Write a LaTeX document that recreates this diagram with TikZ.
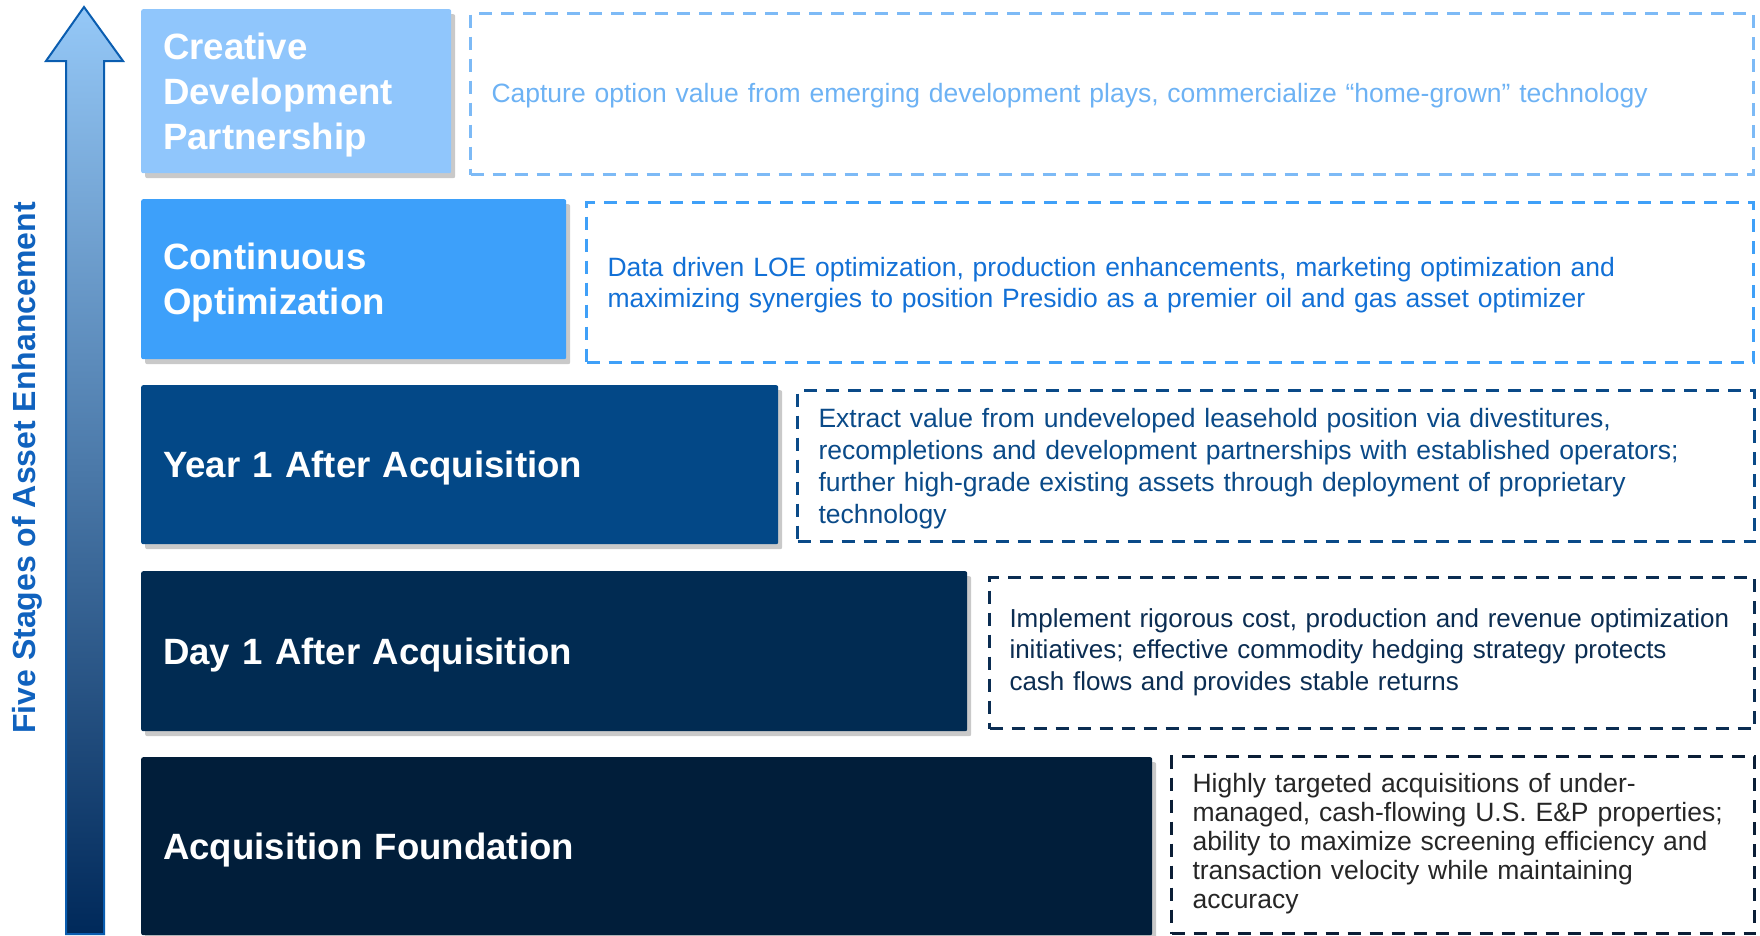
\documentclass[tikz,border=0pt]{standalone}
\usepackage{fontspec}
\setmainfont{Liberation Sans}
\usetikzlibrary{shadows}
\definecolor{stageA}{HTML}{90C6FC}
\definecolor{stageB}{HTML}{3DA0FA}
\definecolor{stageC}{HTML}{034887}
\definecolor{stageD}{HTML}{012B52}
\definecolor{stageE}{HTML}{011E3A}
\definecolor{dashA}{HTML}{7DBAF6}
\definecolor{dashB}{HTML}{3FA0F8}
\definecolor{dashC}{HTML}{0A4A88}
\definecolor{dashD}{HTML}{0B2D52}
\definecolor{dashE}{HTML}{0B1E36}
\definecolor{noteA}{HTML}{6DB2F4}
\definecolor{noteB}{HTML}{1270D6}
\definecolor{noteC}{HTML}{0A4A88}
\definecolor{noteD}{HTML}{0B2D52}
\definecolor{noteE}{HTML}{262626}
\definecolor{arrowline}{HTML}{0A5DB0}
\definecolor{arrowtop}{HTML}{95C8F7}
\definecolor{arrowmid}{HTML}{3F7FC2}
\definecolor{arrowbot}{HTML}{00295A}
\definecolor{axistext}{HTML}{1062BE}

\begin{document}
\begin{tikzpicture}[x=1pt,y=-1pt,
  stage/.style={anchor=north west,rounded corners=2pt,inner xsep=22pt,inner ysep=0pt,text height=34pt,
    align=left,text=white,font=\fontsize{36.6}{45}\selectfont\bfseries,
    drop shadow={shadow xshift=4pt,shadow yshift=-5pt,opacity=.3,fill=black!70}},
  note/.style={anchor=north west,inner xsep=21pt,inner ysep=0pt,text height=24pt,align=left,
    line width=3pt,dash pattern=on 13pt off 9pt,font=\fontsize{26.5}{31}\selectfont}]
\useasboundingbox (0,0) rectangle (1760,935);

\draw[arrowline,line width=2pt,top color=arrowtop,middle color=arrowmid,bottom color=arrowbot]
  (84,7) -- (123,61) -- (104,61) -- (104,934) -- (66,934) -- (66,61) -- (46,61) -- cycle;
\node[rotate=90,anchor=base,text=axistext,font=\fontsize{32}{38}\selectfont\bfseries] (axislabel) at (35,468) {Five Stages of Asset Enhancement};

\node[stage,fill=stageA,text width=266pt,minimum height=164pt,text height=35pt] (creative) at (141,9) {Creative\\Development\\Partnership};
\node[note,draw=dashA,text=noteA,text width=1241pt,minimum height=161pt,text height=22pt] (creativenote) at (469,12)
  {Capture option value from emerging development plays, commercialize “home-grown” technology};

\node[stage,fill=stageB,text width=381pt,minimum height=160pt] (continuous) at (141,199) {Continuous\\Optimization};
\node[note,draw=dashB,text=noteB,text width=1125pt,minimum height=160pt] (continuousnote) at (585,201)
  {Data driven LOE optimization, production enhancements, marketing optimization and\\maximizing synergies to position Presidio as a premier oil and gas asset optimizer};

\node[stage,fill=stageC,text width=593pt,minimum height=159pt] (yearone) at (141,385) {Year 1 After Acquisition};
\node[note,draw=dashC,text=noteC,text width=915pt,minimum height=151pt,font=\fontsize{26.5}{32}\selectfont] (yearonenote) at (796,389)
  {Extract value from undeveloped leasehold position via divestitures,\\recompletions and development partnerships with established operators;\\further high-grade existing assets through deployment of proprietary\\technology};

\node[stage,fill=stageD,text width=782pt,minimum height=160pt] (dayone) at (141,571) {Day 1 After Acquisition};
\node[note,draw=dashD,text=noteD,inner xsep=20pt,text width=725pt,minimum height=151pt,text height=17pt,font=\fontsize{26}{31.5}\selectfont] (dayonenote) at (988,576)
  {Implement rigorous cost, production and revenue optimization\\initiatives; effective commodity hedging strategy protects\\cash flows and provides stable returns};

\node[stage,fill=stageE,text width=967pt,minimum height=178pt] (foundation) at (141,757) {Acquisition Foundation};
\node[note,draw=dashE,text=noteE,text width=541pt,minimum height=177pt,text height=16pt,font=\fontsize{26.5}{29}\selectfont] (foundationnote) at (1170,755)
  {Highly targeted acquisitions of under-\\managed, cash-flowing U.S. E\&P properties;\\ability to maximize screening efficiency and\\transaction velocity while maintaining\\accuracy};
\end{tikzpicture}
\end{document}
